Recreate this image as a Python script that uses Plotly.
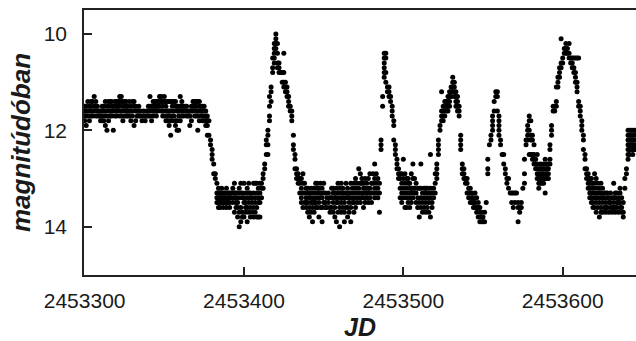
import plotly.graph_objects as go

JD_BASE = 2453000
# Each row: [JD - 2453000, magnitudes observed that night ...]
plateau = [
    [300, 11.5, 11.6, 11.7, 11.8], [301, 11.5, 11.6, 11.7, 11.9], [302, 11.4, 11.6, 11.7],
    [303, 11.5, 11.6, 11.8], [304, 11.4, 11.5, 11.6, 11.7], [305, 11.4, 11.6, 11.7],
    [306, 11.3, 11.5, 11.6], [307, 11.4, 11.5, 11.7], [308, 11.5, 11.6, 11.7],
    [309, 11.6, 11.7], [310, 11.6, 11.7, 11.8], [311, 11.5, 11.6, 11.7, 11.8],
    [312, 11.5, 11.6, 11.8], [313, 11.4, 11.6, 11.7, 11.9], [314, 11.5, 11.7, 12.0],
    [315, 11.4, 11.5, 11.6, 11.8], [316, 11.4, 11.6, 11.7], [317, 11.4, 11.5, 11.6, 11.7],
    [318, 11.5, 11.6, 12.0], [319, 11.4, 11.5, 11.7], [320, 11.4, 11.5, 11.6, 11.7],
    [321, 11.4, 11.5, 11.6], [322, 11.3, 11.4, 11.5, 11.7], [323, 11.3, 11.4, 11.6, 11.7],
    [324, 11.4, 11.5, 11.6, 11.8], [325, 11.4, 11.5, 11.7], [326, 11.4, 11.5, 11.6, 11.7],
    [327, 11.5, 11.6, 11.7], [328, 11.4, 11.6, 11.7], [329, 11.5, 11.6, 11.8],
    [330, 11.4, 11.6, 11.7], [331, 11.4, 11.5, 11.9], [332, 11.5, 11.6, 11.8],
    [333, 11.6, 11.7], [334, 11.5, 11.6, 11.7], [335, 11.6, 11.7], [336, 11.7, 11.8],
    [337, 11.6, 11.7], [338, 11.7, 11.8], [339, 11.6, 11.7], [340, 11.5, 11.6, 11.7],
    [341, 11.3, 11.5, 11.7], [342, 11.5, 11.6, 11.8], [343, 11.4, 11.5, 11.6, 11.7],
    [344, 11.4, 11.5, 11.6], [345, 11.4, 11.5, 11.6, 11.7], [346, 11.4, 11.5, 11.6],
    [347, 11.3, 11.4, 11.5], [348, 11.3, 11.4, 11.6], [349, 11.4, 11.5, 11.6, 11.7],
    [350, 11.3, 11.4, 11.7], [351, 11.4, 11.5, 11.6, 11.8], [352, 11.4, 11.6, 11.7, 11.8],
    [353, 11.4, 11.6, 11.7, 11.9], [354, 11.4, 11.6, 11.8, 12.1], [355, 11.4, 11.5, 11.7, 11.8],
    [356, 11.4, 11.6, 11.7], [357, 11.4, 11.5, 11.8, 11.9], [358, 11.5, 11.6, 11.8, 12.0],
    [359, 11.5, 11.6, 11.7, 12.0], [360, 11.3, 11.5, 11.6, 11.8], [361, 11.4, 11.5, 11.6, 11.7],
    [362, 11.5, 11.6, 11.7], [363, 11.5, 11.6], [364, 11.5, 11.6, 11.7], [365, 11.6, 11.7],
    [366, 11.6, 11.7, 11.9], [367, 11.5, 11.6, 11.8], [368, 11.4, 11.5, 11.6],
    [369, 11.4, 11.5, 11.7], [370, 11.4, 11.5, 11.6, 11.7], [371, 11.4, 11.6, 11.7, 12.0],
    [372, 11.4, 11.5, 11.6, 11.8], [373, 11.5, 11.6, 11.7], [374, 11.5, 11.6, 11.7, 11.8],
    [375, 11.5, 11.6, 11.8], [376, 11.6, 11.7, 11.8, 11.9], [377, 11.7, 11.8, 11.9, 12.1],
]
fade_and_outburst_1 = [
    [378, 11.8, 12.1], [379, 12.2, 12.3], [380, 12.4, 12.5, 12.6], [381, 12.7, 12.9],
    [382, 12.9, 13.0], [383, 13.1, 13.3, 13.4, 13.5], [384, 13.2, 13.3, 13.4, 13.5, 13.6],
    [385, 13.3, 13.4, 13.5, 13.6], [386, 13.2, 13.3, 13.4, 13.5], [387, 13.3, 13.4, 13.5, 13.6],
    [388, 13.3, 13.4, 13.5], [389, 13.2, 13.4, 13.5, 13.6], [390, 13.3, 13.4, 13.5],
    [391, 13.3, 13.4, 13.5, 13.6], [392, 13.3, 13.4], [393, 13.2, 13.3, 13.5],
    [394, 13.1, 13.3, 13.4, 13.7], [395, 13.3, 13.4, 13.5, 13.6], [396, 13.3, 13.5, 13.6, 13.8],
    [397, 13.2, 13.4, 13.7, 14.0], [398, 13.1, 13.3, 13.6, 13.9], [399, 13.3, 13.4, 13.7, 13.8],
    [400, 13.1, 13.4, 13.5, 13.8], [401, 13.3, 13.5, 13.6, 13.7], [402, 13.2, 13.4, 13.6, 13.9],
    [403, 13.1, 13.3, 13.5, 13.7], [404, 13.3, 13.4, 13.6, 13.8], [405, 13.4, 13.5, 13.7],
    [406, 13.1, 13.3, 13.6, 13.8], [407, 13.1, 13.4, 13.5, 13.7], [408, 13.1, 13.3, 13.6, 13.8],
    [409, 13.2, 13.4, 13.5, 13.8], [410, 13.1, 13.3, 13.5, 13.8], [411, 13.1, 13.2, 13.4],
    [412, 12.9, 13.0, 13.2], [413, 12.7, 12.8], [414, 12.2, 12.3, 12.5],
    [415, 12.0, 12.1, 12.3, 12.5], [416, 11.3, 11.5, 11.7, 11.8], [417, 11.1, 11.2, 11.4],
    [418, 10.5, 10.7, 10.8], [419, 10.2, 10.3, 10.4, 10.5, 10.6], [420, 10.0, 10.1, 10.2, 10.3],
    [421, 10.2, 10.4, 10.6, 10.7], [422, 10.6, 10.7, 10.8], [423, 10.8], [424, 10.8, 11.0],
    [425, 10.4, 10.8, 11.0, 11.1], [426, 11.0, 11.1, 11.2], [427, 11.1, 11.2, 11.3],
    [428, 11.3, 11.4, 11.5], [429, 11.5, 11.6], [430, 11.6, 11.7, 11.8],
    [431, 12.1, 12.3, 12.4], [432, 12.5, 12.6, 12.8], [433, 12.8, 12.9, 13.0],
    [434, 12.9, 13.0, 13.1], [435, 13.0, 13.1, 13.3],
]
low_state = [
    [436, 13.0, 13.2, 13.4, 13.5], [437, 12.9, 13.1, 13.3, 13.6], [438, 13.1, 13.3, 13.5],
    [439, 13.2, 13.4, 13.5, 13.6], [440, 13.2, 13.3, 13.5, 13.7], [441, 13.3, 13.4, 13.6, 13.8],
    [442, 13.2, 13.4, 13.5, 13.7], [443, 13.3, 13.5, 13.6, 13.9], [444, 13.2, 13.4, 13.5, 13.7],
    [445, 13.1, 13.3, 13.5, 13.6], [446, 13.1, 13.2, 13.4, 13.6], [447, 13.2, 13.3, 13.5, 13.8],
    [448, 13.1, 13.3, 13.4, 13.6], [449, 13.2, 13.4, 13.6, 13.9], [450, 13.1, 13.3, 13.5],
    [451, 13.3, 13.5, 13.6], [452, 13.4, 13.6], [453, 13.3, 13.5], [454, 13.4, 13.6, 13.7],
    [455, 13.2, 13.4, 13.6], [456, 13.2, 13.3, 13.5, 13.7], [457, 13.3, 13.4, 13.6, 13.8],
    [458, 13.2, 13.4, 13.5, 13.9], [459, 13.1, 13.3, 13.5, 13.7], [460, 13.2, 13.4, 13.6, 14.0],
    [461, 13.1, 13.3, 13.5, 13.7], [462, 13.2, 13.3, 13.4, 13.6], [463, 13.3, 13.5, 13.7, 13.9],
    [464, 13.1, 13.3, 13.4, 13.6], [465, 13.2, 13.4, 13.6, 13.8], [466, 13.3, 13.4, 13.5, 13.7],
    [467, 13.1, 13.3, 13.6, 13.9], [468, 13.2, 13.4, 13.5], [469, 13.1, 13.3, 13.5, 13.7],
    [470, 13.0, 13.2, 13.4, 13.6], [471, 13.1, 13.3, 13.5], [472, 12.8, 13.2, 13.4],
    [473, 12.9, 13.1, 13.3, 13.5], [474, 13.0, 13.1, 13.3, 13.4], [475, 13.1, 13.2, 13.4, 13.6],
    [476, 13.0, 13.2, 13.3, 13.5], [477, 13.1, 13.3, 13.4], [478, 13.0, 13.2, 13.3, 13.5],
    [479, 12.9, 13.2, 13.4], [480, 13.1, 13.3, 13.5], [481, 12.9, 13.1, 13.3],
    [482, 12.7, 13.0, 13.2, 13.4], [483, 12.9, 13.1, 13.3], [484, 13.0, 13.2, 13.4],
    [485, 13.1, 13.3, 13.7],
]
outbursts_2_3 = [
    [486, 12.2, 12.3, 12.4], [487, 11.3, 11.5], [488, 10.4, 10.5, 10.6, 10.7, 10.8, 10.9],
    [489, 10.4, 10.5, 10.8, 11.0], [490, 11.1, 11.2], [491, 11.1, 11.2, 11.3], [492, 11.3, 11.4],
    [493, 11.5, 11.6, 11.7], [494, 11.8, 11.9, 12.2], [495, 12.3, 12.4, 12.5],
    [496, 12.6, 12.7, 12.8], [497, 12.8, 12.9, 13.0], [498, 12.9, 13.0, 13.2, 13.4],
    [499, 12.9, 13.1, 13.3, 13.5], [500, 12.6, 13.0, 13.2, 13.4], [501, 12.9, 13.1, 13.3, 13.6],
    [502, 13.0, 13.2, 13.4, 13.6], [503, 13.0, 13.1, 13.3, 13.5], [504, 13.1, 13.2, 13.4, 13.6],
    [505, 12.9, 13.2, 13.3, 13.5], [506, 12.7, 13.0, 13.2, 13.4], [507, 13.0, 13.2, 13.3],
    [508, 13.1, 13.3, 13.5], [509, 13.2, 13.4, 13.6], [510, 13.2, 13.5, 13.8],
    [511, 12.7, 13.2, 13.4, 13.6], [512, 13.3, 13.5, 13.7], [513, 13.2, 13.4, 13.6],
    [514, 13.2, 13.3, 13.5, 13.7], [515, 13.2, 13.4, 13.6], [516, 13.3, 13.5, 13.7],
    [517, 12.5, 13.2, 13.4, 13.8], [518, 13.3, 13.5, 13.6], [519, 13.2, 13.4],
    [520, 12.9, 13.1, 13.3], [521, 12.7, 12.8, 12.9, 13.0], [522, 12.2, 12.3, 12.4, 12.5],
    [523, 11.9, 12.0], [524, 11.2, 11.6, 11.7, 11.8], [525, 11.5, 11.6, 11.7, 11.8],
    [526, 11.4, 11.5, 11.6, 11.7], [527, 11.4, 11.5, 11.6], [528, 11.3, 11.4, 11.5, 11.6],
    [529, 11.2, 11.3, 11.4, 11.5], [530, 11.1, 11.2, 11.3], [531, 10.9, 11.0, 11.1, 11.2],
    [532, 11.0, 11.1, 11.2, 11.3], [533, 11.2, 11.3, 11.4, 11.5], [534, 11.3, 11.4, 11.5, 11.6],
    [535, 11.5, 11.6, 11.7], [536, 12.1, 12.2, 12.3, 12.4], [537, 12.7, 12.8, 12.9],
    [538, 12.8, 12.9, 13.0], [539, 13.0, 13.1], [540, 13.0, 13.1, 13.3], [541, 13.2, 13.3, 13.4],
    [542, 13.2, 13.3, 13.5], [543, 13.3, 13.4, 13.5], [544, 13.4, 13.5, 13.6],
    [545, 13.3, 13.5, 13.6], [546, 13.4, 13.6, 13.7], [547, 13.5, 13.6, 13.8],
    [548, 13.6, 13.7, 13.9], [549, 13.7, 13.8, 13.9], [550, 13.8, 13.9], [551, 13.7, 13.9],
    [552, 13.5],
]
outbursts_4_5 = [
    [553, 12.6, 12.8, 12.9], [554, 12.3], [555, 12.1, 12.2], [556, 11.7, 11.8, 11.9, 12.0],
    [557, 11.4, 11.6], [558, 11.2, 11.3], [559, 11.2, 11.3, 11.6],
    [560, 11.7, 11.8, 11.9, 12.0, 12.1], [561, 12.2, 12.3], [562, 12.5], [563, 12.5, 12.7],
    [564, 12.8, 12.9], [565, 13.0, 13.1], [566, 13.0, 13.2], [567, 13.3], [568, 13.3, 13.5],
    [569, 13.3, 13.6], [570, 13.3, 13.5], [571, 13.3], [572, 13.5, 13.6, 13.9],
    [573, 13.6, 13.7], [574, 13.5, 13.6], [575, 13.2], [576, 12.6, 12.9, 13.1],
    [577, 12.2, 12.3], [578, 11.9, 12.0, 12.1, 12.2], [579, 11.7, 11.8, 12.0, 12.5],
    [580, 11.8, 12.1, 12.2, 12.5], [581, 12.1, 12.2, 12.5, 12.6], [582, 12.3, 12.5, 12.6, 12.7],
    [583, 12.6, 12.7, 12.8], [584, 12.5, 12.7, 12.8, 12.9, 13.0],
    [585, 12.8, 12.9, 13.0, 13.1, 13.2], [586, 12.7, 12.8, 12.9, 13.0, 13.1],
    [587, 12.8, 12.9, 13.0, 13.1], [588, 12.7, 12.8, 12.9, 13.0, 13.1],
    [589, 12.6, 12.8, 12.9, 13.0, 13.3], [590, 12.7, 12.8, 12.9, 13.0],
    [591, 12.7, 12.8, 12.9, 13.0], [592, 12.3, 12.4, 12.6, 12.7], [593, 11.9, 12.0, 12.1],
    [594, 11.5, 11.6], [595, 11.5, 11.6], [596, 11.1, 11.4, 11.5], [597, 10.9, 11.0, 11.1],
    [598, 10.7, 10.8, 10.9], [599, 10.1, 10.6, 10.7], [600, 10.5, 10.6], [601, 10.3, 10.4],
    [602, 10.2, 10.3, 10.4], [603, 10.3, 10.4], [604, 10.2, 10.4, 10.5], [605, 10.5, 10.6],
    [606, 10.5, 10.6, 10.7], [607, 10.5, 10.7, 10.8], [608, 10.5, 10.8, 10.9, 11.0],
    [609, 10.5, 11.0, 11.1, 11.2], [610, 10.5, 11.4, 11.5], [611, 11.5, 11.6, 11.7],
    [612, 11.8, 11.9, 12.0], [613, 12.1, 12.2, 12.4], [614, 12.5, 12.6, 12.8],
    [615, 12.8, 12.9, 13.0], [616, 12.9, 13.0, 13.1, 13.2], [617, 13.0, 13.1, 13.2, 13.3, 13.4],
    [618, 13.0, 13.1, 13.3, 13.4, 13.5], [619, 13.1, 13.2, 13.3, 13.5, 13.6],
    [620, 12.9, 13.1, 13.3, 13.4, 13.6], [621, 13.0, 13.2, 13.4, 13.5, 13.7],
    [622, 13.1, 13.3, 13.4, 13.6], [623, 13.2, 13.3, 13.5, 13.8],
    [624, 13.1, 13.3, 13.4, 13.6, 13.7], [625, 13.2, 13.4, 13.5, 13.7], [626, 13.3, 13.4, 13.6],
    [627, 13.3, 13.5, 13.6, 13.7], [628, 13.3, 13.4, 13.6], [629, 13.4, 13.5, 13.7],
    [630, 13.3, 13.5, 13.6], [631, 13.4, 13.6, 13.7], [632, 13.1, 13.4, 13.5, 13.6],
    [633, 13.3, 13.4, 13.6, 13.7], [634, 13.3, 13.5, 13.6], [635, 13.4, 13.5, 13.7],
    [636, 13.2, 13.3, 13.5, 13.6], [637, 13.4, 13.6, 13.7], [638, 13.5, 13.7, 13.8],
    [639, 13.0, 13.2], [640, 12.8, 12.9], [641, 12.0, 12.1, 12.2, 12.3, 12.4, 12.5, 12.6],
    [642, 12.0, 12.1, 12.2, 12.3, 12.4, 12.5], [643, 12.0, 12.1, 12.2, 12.3, 12.4],
    [644, 12.0, 12.1, 12.2, 12.3, 12.4, 12.5], [645, 12.0, 12.1, 12.2, 12.3, 12.4],
    [646, 12.0, 12.2, 12.4],
]

x_ticks = [2453300, 2453400, 2453500, 2453600]
y_ticks = [10, 12, 14]

jd, mag = [], []
for seg in (plateau, fade_and_outburst_1, low_state, outbursts_2_3, outbursts_4_5):
    for row in seg:
        for m in row[1:]:
            jd.append(JD_BASE + row[0])
            mag.append(m)

FONT = "Liberation Sans, Arial, Helvetica, sans-serif"

fig = go.Figure(go.Scatter(
    x=jd, y=mag, mode="markers",
    marker=dict(color="black", size=5, line=dict(width=0)),
    hoverinfo="skip", showlegend=False,
))

axis_common = dict(
    showgrid=False, zeroline=False, showline=True, linecolor="#222", linewidth=1.5,
    ticks="inside", ticklen=8, tickwidth=1.5, tickcolor="#222",
    tickfont=dict(family=FONT, size=21, color="#1a1a1a"),
)
fig.update_xaxes(
    **axis_common, range=[2453299.6, 2453646], tickvals=x_ticks,
    ticktext=[str(v) for v in x_ticks], mirror=True, ticklabelstandoff=6,
    title=dict(text="<b><i>JD</i></b>", font=dict(family=FONT, size=25, color="#1a1a1a"), standoff=12),
)
fig.update_yaxes(
    **axis_common, range=[15.003, 9.502], tickvals=y_ticks,
    ticktext=[str(v) for v in y_ticks], mirror=False, ticklabelstandoff=11,
    title=dict(text="<b><i>magnitúdóban</i></b>", font=dict(family=FONT, size=26, color="#1a1a1a"), standoff=6),
)
fig.update_layout(
    width=636, height=341, margin=dict(l=84, r=0, t=10, b=66),
    paper_bgcolor="white", plot_bgcolor="white",
)
fig.write_html("out.html")
